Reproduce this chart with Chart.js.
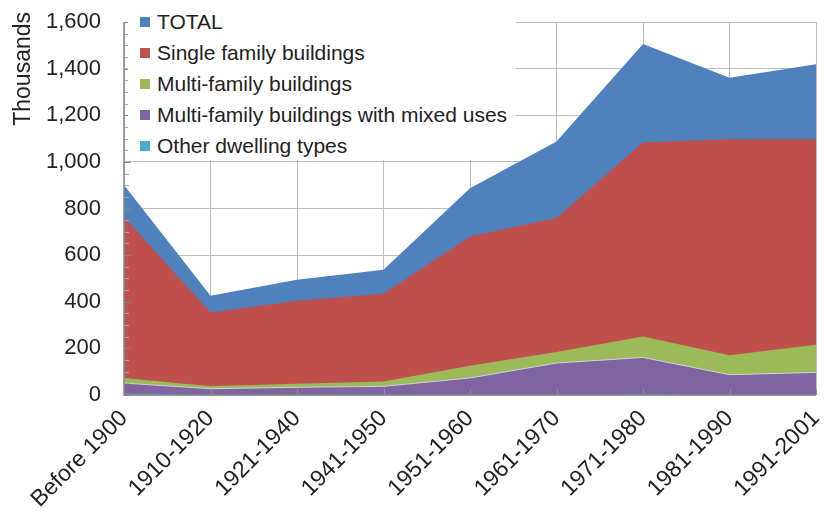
<!DOCTYPE html>
<html><head><meta charset="utf-8">
<script src="https://cdn.jsdelivr.net/npm/chart.js@4/dist/chart.umd.min.js"></script>
<style>
html,body{margin:0;padding:0;background:#fff;}
#wrap{position:relative;width:825px;height:517px;}
#legend{position:absolute;left:128px;top:2px;width:388px;height:158px;background:#fff;font-family:"Liberation Sans",Arial,sans-serif;font-size:21px;color:#222;}
.item{position:absolute;left:12px;height:26px;display:flex;align-items:center;white-space:nowrap;}
.sw{display:inline-block;width:10px;height:10px;margin-right:7px;flex:none;}
</style></head>
<body>
<div id="wrap">
<canvas id="c" width="825" height="517"></canvas>
<div id="legend"></div>
</div>
<script>
const categories = ["Before 1900","1910-1920","1921-1940","1941-1950","1951-1960","1961-1970","1971-1980","1981-1990","1991-2001"];
const total  = [901, 426, 494, 537, 887, 1087, 1506, 1361, 1419];
const single = [765, 354, 404, 434, 680, 759, 1083, 1097, 1097];
const multi  = [73, 37, 48, 58, 126, 184, 251, 170, 216];
const mixed  = [51, 27, 33, 37, 73, 137, 161, 87, 97];
const other  = [6, 2, 3, 2, 2, 1, 4, 2, 3];
const seriesNames = ["TOTAL","Single family buildings","Multi-family buildings","Multi-family buildings with mixed uses","Other dwelling types"];
const yTicks = [0,200,400,600,800,1000,1200,1400,1600];
const yMinorStep = 50;
const yTitle = "Thousands";

const colors = ["#4F81BD","#C0504D","#9BBB59","#8064A2","#4BACC6"];
const values = [total, single, multi, mixed, other];
const FONT = '"Liberation Sans", Arial, sans-serif';

const datasets = values.map((v,i)=>({
  label: seriesNames[i],
  data: v,
  backgroundColor: colors[i],
  borderColor: i===3 ? 'rgba(215,215,235,0.9)' : colors[i],
  borderWidth: i===3 ? 1 : 0,
  fill: 'origin',
  pointRadius: 0,
  pointHoverRadius: 0,
  tension: 0,
  order: 5 - i
}));

// HTML legend
const lg = document.getElementById('legend');
seriesNames.forEach((n,i)=>{
  const d = document.createElement('div');
  d.className='item';
  d.style.top = (22 + 31*i - 2 - 13) + 'px';
  const s = document.createElement('span'); s.className='sw'; s.style.background=colors[i];
  const t = document.createElement('span'); t.textContent = n;
  d.appendChild(s); d.appendChild(t); lg.appendChild(d);
});

const axisOverlay = {
  id:'axisOverlay',
  afterDatasetsDraw(chart){
    const {ctx, chartArea:a, scales:{x,y}} = chart;
    ctx.save();
    ctx.lineWidth = 1;
    const top = yTicks[yTicks.length-1];
    for (let v=0; v<=top; v+=yMinorStep){
      const py = Math.round(y.getPixelForValue(v))+0.5;
      const major = yTicks.includes(v);
      ctx.strokeStyle = major ? '#868686' : '#a8a8a8';
      ctx.beginPath(); ctx.moveTo(a.left, py); ctx.lineTo(a.left + (major?7:5), py); ctx.stroke();
    }
    ctx.strokeStyle = '#909090';
    for (let i=0;i<categories.length;i++){
      const px = Math.round(x.getPixelForValue(i))+0.5;
      ctx.beginPath(); ctx.moveTo(px, a.bottom); ctx.lineTo(px, a.bottom-6); ctx.stroke();
    }
    ctx.strokeStyle = '#868686';
    ctx.lineWidth = 1.5;
    ctx.beginPath();
    ctx.moveTo(a.left, a.top); ctx.lineTo(a.left, a.bottom); ctx.lineTo(a.right, a.bottom);
    ctx.stroke();
    ctx.restore();
  },
  afterDraw(chart){
    const {ctx, chartArea:a} = chart;
    ctx.save();
    ctx.font = '23px ' + FONT;
    ctx.fillStyle = '#222';
    ctx.translate(24, a.top - 10);
    ctx.rotate(-Math.PI/2);
    ctx.textAlign = 'right';
    ctx.textBaseline = 'middle';
    ctx.fillText(yTitle, 0, 0);
    ctx.restore();
  }
};

new Chart(document.getElementById('c'), {
  type:'line',
  data:{ labels: categories, datasets },
  plugins:[axisOverlay],
  options:{
    responsive:false,
    animation:false,
    layout:{ padding:{ top:22, right:9, left:0, bottom:0 } },
    plugins:{ legend:{ display:false }, tooltip:{ enabled:false } },
    scales:{
      x:{
        offset:false,
        afterFit(s){ s.height = 122; s.paddingLeft = 0; s.paddingRight = 0; },
        grid:{ color:'#bdbdbd', lineWidth:1, drawTicks:false },
        border:{ display:false },
        ticks:{ autoSkip:false, maxRotation:45, minRotation:45, padding:10, color:'#222', font:{ family:FONT, size:23 } }
      },
      y:{
        min:0, max:1600,
        afterFit(s){ s.width = 124; s.paddingTop = 0; s.paddingBottom = 0; },
        afterBuildTicks(s){ s.ticks = yTicks.map(v=>({value:v})); },
        grid:{ color:'#bdbdbd', lineWidth:1, drawTicks:false },
        border:{ display:false },
        title:{ display:false },
        ticks:{ padding:23, color:'#222', font:{ family:FONT, size:22 },
          callback:(v)=>Number(v).toLocaleString('en-US') }
      }
    }
  }
});
</script>
</body></html>
